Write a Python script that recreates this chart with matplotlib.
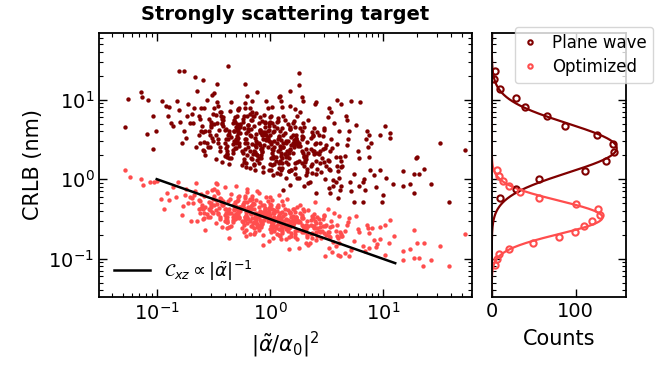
import numpy as np
import matplotlib.pyplot as plt

# scatter points, log10 of (|alpha/alpha0|^2, CRLB in nm)
pw_log = [
    (-1.28,0.66),(-1.25,1.01),(-1.14,1.10),(-1.13,1.03),(-1.09,0.57),(-1.08,0.99),(-1.03,0.79),(-1.03,0.38),(-1.01,0.60),
    (-0.95,0.98),(-0.92,0.92),(-0.89,0.91),(-0.87,0.70),(-0.86,0.67),(-0.82,0.98),(-0.90,0.79),(-0.80,0.87),(-0.80,1.36),
    (-0.76,1.36),(-0.76,0.60),(-0.78,0.45),(-0.73,0.80),(-0.72,0.95),(-0.71,0.70),(-0.74,0.52),(-0.79,0.72),
    (-0.68,0.70),(-0.62,0.45),(-0.66,1.29),(-0.61,0.60),(-0.69,0.82),(-0.64,1.11),(-0.60,0.67),(-0.67,0.89),(-0.63,0.55),(-0.65,0.40),
    (-0.58,0.35),(-0.52,0.72),(-0.56,0.46),(-0.51,1.06),(-0.59,0.59),(-0.54,0.75),(-0.57,0.30),(-0.50,0.82),(-0.53,0.55),(-0.58,0.90),
    (-0.55,0.40),(-0.52,0.68),(-0.59,1.25),(-0.56,0.99),
    (-0.48,0.25),(-0.42,0.76),(-0.46,0.46),(-0.41,0.67),(-0.49,1.08),(-0.44,0.40),(-0.47,0.71),(-0.40,0.29),(-0.43,0.84),(-0.48,0.55),
    (-0.45,0.62),(-0.42,0.22),(-0.49,0.90),(-0.46,0.50),(-0.41,0.78),(-0.44,0.35),(-0.47,1.20),
    (-0.38,0.42),(-0.32,0.61),(-0.36,0.19),(-0.31,0.78),(-0.39,0.51),(-0.34,0.97),(-0.37,0.55),(-0.30,0.39),(-0.33,0.70),(-0.38,0.31),
    (-0.35,0.86),(-0.32,0.48),(-0.39,0.63),(-0.36,0.27),(-0.31,0.72),(-0.34,0.53),(-0.37,1.42),(-0.33,0.44),(-0.30,0.65),(-0.36,0.60),(-0.38,0.36),
    (-0.28,0.87),(-0.22,0.46),(-0.26,0.68),(-0.21,0.15),(-0.29,0.54),(-0.24,0.76),(-0.27,0.42),(-0.20,1.04),(-0.23,0.25),(-0.28,0.62),
    (-0.25,0.36),(-0.22,0.96),(-0.29,0.49),(-0.26,0.65),(-0.21,0.20),(-0.24,0.72),(-0.27,0.45),(-0.23,0.80),(-0.20,0.30),(-0.26,0.58),
    (-0.28,0.52),(-0.22,0.89),(-0.25,0.18),(-0.29,0.69),
    (-0.18,0.36),(-0.12,0.57),(-0.16,0.98),(-0.11,0.30),(-0.19,0.61),(-0.14,0.19),(-0.17,0.74),(-0.10,0.45),(-0.13,0.52),(-0.18,0.14),
    (-0.15,0.80),(-0.12,0.40),(-0.19,0.68),(-0.16,0.25),(-0.11,1.10),(-0.14,0.35),(-0.17,0.54),(-0.13,0.12),(-0.10,0.71),(-0.16,0.44),
    (-0.18,0.90),(-0.12,0.48),(-0.15,0.32),(-0.19,0.63),(-0.11,0.24),(-0.14,0.79),
    (-0.08,0.38),(-0.02,0.53),(-0.06,0.15),(-0.01,0.62),(-0.09,0.43),(-0.04,0.72),(-0.07,0.34),(0.00,0.55),(-0.03,0.50),(-0.08,0.26),
    (-0.05,0.81),(-0.02,0.40),(-0.09,0.62),(-0.06,0.09),(-0.01,0.48),(-0.04,0.70),(-0.07,0.36),(-0.03,0.98),(0.00,0.19),(-0.06,0.56),
    (-0.08,0.30),(-0.02,0.90),(-0.05,0.43),(-0.09,0.59),(-0.01,0.11),(-0.04,0.66),(-0.07,0.39),
    (0.02,0.70),(0.08,0.20),(0.04,0.48),(0.09,0.42),(0.01,0.79),(0.06,0.08),(0.03,0.59),(0.10,0.29),(0.07,0.50),(0.02,0.91),
    (0.05,0.23),(0.08,0.54),(0.01,0.12),(0.04,0.67),(0.09,0.38),(0.06,0.45),(0.03,0.05),(0.07,0.73),(0.10,0.33),(0.04,0.61),
    (0.02,0.18),(0.08,1.03),(0.05,0.28),(0.01,0.47),(0.09,0.07),(0.06,0.64),(0.03,0.37),
    (0.12,0.80),(0.18,0.38),(0.14,0.22),(0.19,0.53),(0.11,0.14),(0.16,0.69),(0.13,0.31),(0.20,0.46),(0.17,0.10),(0.12,0.55),
    (0.15,0.36),(0.18,0.65),(0.11,0.27),(0.14,0.48),(0.19,0.43),(0.16,0.19),(0.13,0.74),(0.17,0.33),(0.20,0.55),(0.14,0.02),
    (0.12,0.41),(0.18,0.63),(0.15,0.29),(0.11,0.91),(0.19,0.12),
    (0.22,0.46),(0.28,0.20),(0.24,0.80),(0.29,0.33),(0.21,0.49),(0.26,0.01),(0.23,0.56),(0.30,0.29),(0.27,0.64),(0.22,0.14),
    (0.25,0.42),(0.28,0.36),(0.21,0.73),(0.24,0.02),(0.29,0.53),(0.26,0.23),(0.23,0.44),(0.27,0.85),(0.30,0.17),(0.24,0.48),
    (0.22,0.06),(0.28,0.61),
    (0.32,0.29),(0.38,0.36),(0.34,-0.05),(0.39,0.64),(0.31,0.24),(0.36,0.52),(0.33,0.09),(0.40,0.94),(0.37,0.19),(0.32,0.38),
    (0.35,-0.03),(0.38,0.55),(0.31,0.28),(0.34,0.74),(0.39,0.32),(0.36,0.16),(0.33,0.47),(0.37,0.08),
    (0.42,0.59),(0.48,0.21),(0.44,0.36),(0.49,0.00),(0.41,0.45),(0.46,0.26),(0.43,0.55),(0.50,0.17),(0.47,0.38),(0.42,0.33),
    (0.45,0.09),(0.48,0.64),(0.41,0.23),(0.44,0.45),
    (0.52,-0.11),(0.58,0.28),(0.54,0.50),(0.59,0.16),(0.51,0.78),(0.56,-0.01),(0.53,0.36),(0.60,0.10),(0.57,0.70),(0.52,0.23),(0.55,0.39),
    (0.62,-0.13),(0.68,0.43),(0.64,0.16),(0.69,0.51),(0.61,0.01),(0.66,0.29),(0.63,0.23),(0.70,0.60),
    (0.72,-0.15),(0.78,0.36),(0.74,0.06),(0.79,0.27),(0.76,0.68),
    (0.82,-0.03),(0.88,0.28),(0.84,-0.14),(0.87,0.41),(0.92,0.05),(0.97,0.55),(0.94,-0.10),
    (-0.22,1.20),(0.26,1.34),(0.26,1.18),(0.18,1.11),(0.09,1.05),(0.10,0.98),(0.28,1.03),(0.29,0.98),(0.41,0.97),(0.59,0.99),
    (0.63,0.95),(0.72,0.98),(0.80,0.97),(0.18,0.92),(0.22,0.88),(0.52,0.89),(0.54,0.85),(0.67,0.80),(0.68,0.74),(0.86,0.60),
    (0.88,0.55),(0.85,0.50),(0.89,0.46),
    (0.74,-0.29),(0.82,-0.29),(0.99,-0.29),(0.60,-0.24),(0.53,-0.17),(0.56,-0.09),(0.63,-0.09),(0.79,-0.09),(0.83,0.00),(0.97,0.12),
    (1.03,0.02),(0.885,0.12),(0.71,-0.03),(0.41,-0.17),(0.30,-0.09),(0.18,-0.07),(0.12,-0.13),
    (1.02,0.67),(1.06,0.58),(1.06,0.52),(1.18,0.10),(1.27,0.07),(1.29,0.27),(1.30,0.28),(1.36,0.13),(1.50,0.46),(1.72,0.37),
    (1.32,0.07),(1.18,-0.09),(1.24,-0.06),(1.27,-0.17),(1.42,-0.06),(1.09,-0.06),(1.58,-0.29),(1.00,-0.20),
    # denser core
    (-0.62,0.75),(-0.58,0.47),(-0.61,0.90),(-0.57,0.60),(-0.63,0.79),(-0.59,0.37),
    (-0.52,0.65),(-0.48,0.81),(-0.51,0.52),(-0.47,0.97),(-0.53,0.40),(-0.49,0.69),(-0.50,0.48),(-0.46,0.92),(-0.54,0.60),
    (-0.42,0.69),(-0.38,0.28),(-0.41,0.74),(-0.37,0.51),(-0.43,0.80),(-0.39,0.39),(-0.40,0.62),(-0.36,0.57),(-0.44,0.85),(-0.38,0.32),
    (-0.42,0.70),(-0.40,0.46),
    (-0.32,0.61),(-0.28,0.88),(-0.31,0.39),(-0.27,0.65),(-0.33,0.37),(-0.29,0.80),(-0.30,0.50),(-0.26,0.69),(-0.34,0.27),(-0.28,0.58),
    (-0.32,0.74),(-0.30,0.45),(-0.27,0.90),(-0.33,0.33),(-0.29,0.62),
    (-0.22,0.38),(-0.18,0.82),(-0.21,0.50),(-0.17,0.63),(-0.23,0.22),(-0.19,0.68),(-0.20,0.45),(-0.16,0.74),(-0.24,0.33),(-0.18,0.56),
    (-0.22,0.51),(-0.20,0.79),(-0.17,0.26),(-0.23,0.64),(-0.19,0.40),(-0.21,0.58),(-0.16,0.85),
    (-0.12,0.32),(-0.08,0.58),(-0.11,0.30),(-0.07,0.73),(-0.13,0.43),(-0.09,0.62),(-0.10,0.20),(-0.06,0.51),(-0.14,0.67),(-0.08,0.38),
    (-0.12,0.83),(-0.10,0.26),(-0.07,0.55),(-0.13,0.34),(-0.09,0.78),(-0.11,0.46),(-0.06,0.59),(-0.14,0.18),
    (-0.02,0.61),(0.02,0.38),(-0.01,0.67),(0.03,0.26),(-0.03,0.49),(0.01,0.44),(0.00,0.72),(0.04,0.19),(-0.04,0.57),(0.02,0.33),
    (-0.02,0.51),(0.00,0.78),(0.03,0.29),(-0.03,0.55),(0.01,0.27),(-0.01,0.70),(0.04,0.40),(-0.04,0.59),
    (0.08,0.14),(0.12,0.45),(0.09,0.61),(0.13,0.32),(0.07,0.77),(0.11,0.20),(0.10,0.49),(0.14,0.28),(0.06,0.72),(0.12,0.40),
    (0.08,0.53),(0.10,0.12),(0.13,0.58),(0.07,0.35),(0.11,0.64),(0.09,0.23),(0.14,0.46),
    (0.18,0.37),(0.22,0.65),(0.19,0.12),(0.23,0.50),(0.17,0.26),(0.21,0.44),(0.20,0.71),(0.24,0.22),(0.16,0.48),(0.22,0.20),
    (0.18,0.63),(0.20,0.33),(0.23,0.52),(0.17,0.10),(0.21,0.41),
    (0.28,0.54),(0.32,0.25),(0.29,0.70),(0.33,0.13),(0.27,0.42),(0.31,0.21),(0.30,0.65),(0.34,0.33),(0.26,0.46),(0.32,0.05),
    (0.28,0.51),(0.30,0.28),
    (0.38,0.54),(0.42,0.13),(0.39,0.36),(0.43,0.31),(0.37,0.59),(0.41,0.06),(0.40,0.44),(0.44,0.20),(0.36,0.38),
    (0.48,0.62),(0.52,0.13),(0.49,0.39),(0.53,0.11),(0.47,0.54),(0.51,0.24),(0.50,0.43),
    (0.58,-0.03),(0.62,0.28),(0.59,0.44),(0.63,0.15),(0.61,0.60),
]

opt_log = [
    (-1.28,0.11),(-1.24,0.03),(-1.14,0.00),(-1.12,-0.07),(-1.06,-0.03),(-1.02,-0.04),(-1.00,-0.02),(-0.91,-0.17),(-0.89,-0.26),
    (-0.83,-0.22),(-0.94,-0.38),(-0.81,-0.03),(-0.77,-0.34),(-0.71,-0.22),(-0.74,-0.12),(-0.78,-0.45),(-0.72,-0.30),(-0.86,-0.10),
    (-0.96,-0.25),(-0.75,-0.20),(-0.70,-0.52),
    (-0.68,-0.30),(-0.62,-0.43),(-0.66,-0.15),(-0.61,-0.36),(-0.69,-0.24),(-0.64,-0.53),(-0.60,-0.32),(-0.67,-0.20),(-0.63,-0.38),(-0.65,-0.05),
    (-0.58,-0.49),(-0.52,-0.30),(-0.56,-0.44),(-0.51,-0.13),(-0.59,-0.37),(-0.54,-0.29),(-0.57,-0.64),(-0.50,-0.25),(-0.53,-0.39),(-0.58,-0.21),
    (-0.55,-0.47),(-0.52,-0.32),(-0.59,-0.36),(-0.56,-0.16),
    (-0.48,-0.55),(-0.42,-0.29),(-0.46,-0.44),(-0.41,-0.33),(-0.49,-0.12),(-0.44,-0.47),(-0.47,-0.31),(-0.40,-0.53),(-0.43,-0.25),(-0.48,-0.39),
    (-0.45,-0.36),(-0.42,-0.60),(-0.49,-0.21),(-0.46,-0.42),(-0.41,-0.28),(-0.44,-0.50),(-0.47,-0.06),
    (-0.38,-0.48),(-0.32,-0.38),(-0.36,-0.60),(-0.31,-0.29),(-0.39,-0.43),(-0.34,-0.19),(-0.37,-0.41),(-0.30,-0.49),(-0.33,-0.33),(-0.38,-0.54),
    (-0.35,-0.25),(-0.32,-0.45),(-0.39,-0.37),(-0.36,-0.74),(-0.31,-0.32),(-0.34,-0.42),(-0.37,-0.27),(-0.33,-0.47),(-0.30,-0.36),(-0.36,-0.38),(-0.38,-0.51),
    (-0.28,-0.26),(-0.22,-0.47),(-0.26,-0.35),(-0.21,-0.64),(-0.29,-0.43),(-0.24,-0.31),(-0.27,-0.49),(-0.20,-0.16),(-0.23,-0.57),(-0.28,-0.38),
    (-0.25,-0.52),(-0.22,-0.21),(-0.29,-0.45),(-0.26,-0.37),(-0.21,-0.72),(-0.24,-0.33),(-0.27,-0.47),(-0.23,-0.29),(-0.20,-0.55),(-0.26,-0.40),
    (-0.28,-0.44),(-0.22,-0.24),(-0.25,-0.61),(-0.29,-0.35),
    (-0.18,-0.53),(-0.12,-0.42),(-0.16,-0.21),(-0.11,-0.56),(-0.19,-0.40),(-0.14,-0.62),(-0.17,-0.34),(-0.10,-0.48),(-0.13,-0.45),(-0.18,-0.69),
    (-0.15,-0.30),(-0.12,-0.51),(-0.19,-0.37),(-0.16,-0.59),(-0.11,-0.15),(-0.14,-0.54),(-0.17,-0.44),(-0.13,-0.66),(-0.10,-0.35),(-0.16,-0.49),
    (-0.18,-0.25),(-0.12,-0.47),(-0.15,-0.55),(-0.19,-0.39),(-0.11,-0.60),(-0.14,-0.31),
    (-0.08,-0.54),(-0.02,-0.46),(-0.06,-0.83),(-0.01,-0.41),(-0.09,-0.51),(-0.04,-0.36),(-0.07,-0.56),(0.00,-0.45),(-0.03,-0.47),(-0.08,-0.60),
    (-0.05,-0.32),(-0.02,-0.53),(-0.09,-0.41),(-0.06,-0.70),(-0.01,-0.49),(-0.04,-0.37),(-0.07,-0.55),(-0.03,-0.22),(0.00,-0.63),(-0.06,-0.44),
    (-0.08,-0.58),(-0.02,-0.27),(-0.05,-0.51),(-0.09,-0.43),(-0.01,-0.78),(-0.04,-0.39),(-0.07,-0.53),
    (0.02,-0.37),(0.08,-0.63),(0.04,-0.48),(0.09,-0.52),(0.01,-0.32),(0.06,-0.69),(0.03,-0.43),(0.10,-0.58),(0.07,-0.47),(0.02,-0.26),
    (0.05,-0.61),(0.08,-0.45),(0.01,-0.67),(0.04,-0.39),(0.09,-0.53),(0.06,-0.50),(0.03,-0.74),(0.07,-0.35),(0.10,-0.56),(0.04,-0.42),
    (0.02,-0.64),(0.08,-0.20),(0.05,-0.59),(0.01,-0.49),(0.09,-0.71),(0.06,-0.40),(0.03,-0.54),
    (0.12,-0.33),(0.18,-0.55),(0.14,-0.63),(0.19,-0.47),(0.11,-0.68),(0.16,-0.39),(0.13,-0.59),(0.20,-0.51),(0.17,-0.88),(0.12,-0.46),
    (0.15,-0.56),(0.18,-0.41),(0.11,-0.61),(0.14,-0.50),(0.19,-0.52),(0.16,-0.65),(0.13,-0.37),(0.17,-0.58),(0.20,-0.46),(0.14,-0.75),
    (0.12,-0.54),(0.18,-0.42),(0.15,-0.60),(0.11,-0.27),(0.19,-0.68),
    (0.22,-0.52),(0.28,-0.66),(0.24,-0.35),(0.29,-0.59),(0.21,-0.51),(0.26,-0.86),(0.23,-0.47),(0.30,-0.61),(0.27,-0.43),(0.22,-0.69),
    (0.25,-0.54),(0.28,-0.58),(0.21,-0.38),(0.24,-0.75),(0.29,-0.49),(0.26,-0.64),(0.23,-0.53),(0.27,-0.32),(0.30,-0.67),(0.24,-0.51),
    (0.22,-0.73),(0.28,-0.45),
    (0.32,-0.62),(0.38,-0.59),(0.34,-0.83),(0.39,-0.44),(0.31,-0.65),(0.36,-0.51),(0.33,-0.73),(0.40,-0.29),(0.37,-0.68),(0.32,-0.58),
    (0.35,-0.80),(0.38,-0.49),(0.31,-0.63),(0.34,-0.39),(0.39,-0.61),(0.36,-0.69),(0.33,-0.53),(0.37,-0.74),
    (0.42,-0.48),(0.48,-0.68),(0.44,-0.60),(0.49,-0.97),(0.41,-0.55),(0.46,-0.65),(0.43,-0.50),(0.50,-0.70),(0.47,-0.59),(0.42,-0.61),
    (0.45,-0.74),(0.48,-0.46),(0.41,-0.67),(0.44,-0.55),
    (0.52,-0.86),(0.58,-0.65),(0.54,-0.53),(0.59,-0.71),(0.51,-0.38),(0.56,-0.79),(0.53,-0.60),(0.60,-0.74),(0.57,-0.43),(0.52,-0.67),(0.55,-0.59),
    (0.62,-0.97),(0.68,-0.58),(0.64,-0.72),(0.69,-0.54),(0.61,-0.80),(0.66,-0.65),(0.63,-0.69),(0.70,-0.49),
    (0.72,-0.89),(0.78,-0.63),(0.74,-0.78),(0.79,-0.67),(0.76,-0.46),
    (0.82,-0.84),(0.88,-0.68),(0.84,-0.90),(0.87,-0.62),(0.92,-0.76),(0.97,-0.60),(0.94,-0.85),
    (0.86,-0.57),(0.90,-0.62),(0.97,-0.75),(0.95,-0.82),(0.88,-0.87),(1.02,-0.58),(0.70,-0.96),(0.66,-0.93),(0.60,-0.95),(0.55,-0.92),
    (1.06,-0.51),(1.27,-0.64),(1.30,-0.80),(1.36,-0.80),(1.18,-0.90),(1.24,-0.88),(1.27,-0.99),(1.32,-0.99),(1.42,-1.01),(1.35,-1.09),
    (1.50,-0.84),(1.58,-1.09),(1.72,-0.69),(1.18,-1.02),(1.02,-0.95),(1.05,-0.80),(1.10,-0.72),
    (-0.30,-0.08),(-0.20,-0.12),(-0.10,-0.17),(0.00,-0.22),(0.15,-0.25),(-0.48,-0.05),(-0.40,-0.10),
    # denser core
    (-0.62,-0.28),(-0.58,-0.42),(-0.61,-0.19),(-0.57,-0.35),(-0.63,-0.26),(-0.59,-0.50),
    (-0.52,-0.35),(-0.48,-0.26),(-0.51,-0.41),(-0.47,-0.15),(-0.53,-0.48),(-0.49,-0.32),(-0.50,-0.43),(-0.46,-0.18),(-0.54,-0.37),
    (-0.42,-0.33),(-0.38,-0.61),(-0.41,-0.30),(-0.37,-0.42),(-0.43,-0.27),(-0.39,-0.49),(-0.40,-0.37),(-0.36,-0.43),(-0.44,-0.24),(-0.38,-0.54),
    (-0.42,-0.31),(-0.40,-0.45),
    (-0.32,-0.39),(-0.28,-0.23),(-0.31,-0.50),(-0.27,-0.37),(-0.33,-0.51),(-0.29,-0.28),(-0.30,-0.44),(-0.26,-0.35),(-0.34,-0.59),(-0.28,-0.41),
    (-0.32,-0.32),(-0.30,-0.47),(-0.27,-0.21),(-0.33,-0.54),(-0.29,-0.38),
    (-0.22,-0.51),(-0.18,-0.26),(-0.21,-0.45),(-0.17,-0.38),(-0.23,-0.66),(-0.19,-0.35),(-0.20,-0.47),(-0.16,-0.32),(-0.24,-0.54),(-0.18,-0.42),
    (-0.22,-0.48),(-0.20,-0.29),(-0.17,-0.59),(-0.23,-0.36),(-0.19,-0.50),(-0.21,-0.41),(-0.16,-0.25),
    (-0.12,-0.55),(-0.08,-0.42),(-0.11,-0.56),(-0.07,-0.33),(-0.13,-0.49),(-0.09,-0.40),(-0.10,-0.64),(-0.06,-0.46),(-0.14,-0.37),(-0.08,-0.52),
    (-0.12,-0.26),(-0.10,-0.59),(-0.07,-0.43),(-0.13,-0.54),(-0.09,-0.29),(-0.11,-0.48),(-0.06,-0.41),(-0.14,-0.69),
    (-0.02,-0.41),(0.02,-0.53),(-0.01,-0.38),(0.03,-0.60),(-0.03,-0.48),(0.01,-0.54),(0.00,-0.35),(0.04,-0.65),(-0.04,-0.42),(0.02,-0.56),
    (-0.02,-0.47),(0.00,-0.31),(0.03,-0.58),(-0.03,-0.45),(0.01,-0.59),(-0.01,-0.36),(0.04,-0.52),(-0.04,-0.43),
    (0.08,-0.70),(0.12,-0.52),(0.09,-0.43),(0.13,-0.58),(0.07,-0.32),(0.11,-0.65),(0.10,-0.49),(0.14,-0.60),(0.06,-0.35),(0.12,-0.54),
    (0.08,-0.47),(0.10,-0.75),(0.13,-0.44),(0.07,-0.56),(0.11,-0.41),(0.09,-0.63),(0.14,-0.51),
    (0.18,-0.60),(0.22,-0.41),(0.19,-0.71),(0.23,-0.48),(0.17,-0.62),(0.21,-0.53),(0.20,-0.37),(0.24,-0.64),(0.16,-0.51),(0.22,-0.65),
    (0.18,-0.42),(0.20,-0.58),(0.23,-0.49),(0.17,-0.73),(0.21,-0.55),
    (0.28,-0.48),(0.32,-0.63),(0.29,-0.37),(0.33,-0.70),(0.27,-0.54),(0.31,-0.65),(0.30,-0.40),(0.34,-0.59),(0.26,-0.52),(0.32,-0.80),
    (0.28,-0.49),(0.30,-0.61),
    (0.38,-0.49),(0.42,-0.71),(0.39,-0.59),(0.43,-0.65),(0.37,-0.46),(0.41,-0.76),(0.40,-0.53),(0.44,-0.67),(0.36,-0.58),
    (0.48,-0.45),(0.52,-0.72),(0.49,-0.59),(0.53,-0.73),(0.47,-0.50),(0.51,-0.66),(0.50,-0.57),
    (0.58,-0.84),(0.62,-0.66),(0.59,-0.57),(0.63,-0.72),(0.61,-0.46),
]

# power-law guide line
line_x = [0.1, 12.8]
line_y = [1.0, 0.088]

# histogram points (counts, CRLB)
pw_counts = [3.6, 2.4, 9.5, 29, 40, 66, 87, 125, 144, 146, 136, 111, 56, 28.6, 10.3]
pw_bins = [22.7, 17.9, 13.6, 10.5, 8.0, 6.2, 4.7, 3.6, 2.8, 2.2, 1.68, 1.28, 1.0, 0.76, 0.58]
opt_counts = [6.3, 8.7, 13.5, 20.6, 34, 56, 100, 127, 129, 119, 109.5, 99, 80, 49, 20.6, 8.7, 6.3, 3.6]
opt_bins = [1.29, 1.11, 0.95, 0.81, 0.68, 0.58, 0.49, 0.42, 0.355, 0.30, 0.255, 0.216, 0.185, 0.158,
            0.134, 0.116, 0.098, 0.083]

# gaussian fits in log10(CRLB): amplitude, centre, width
pw_fit = (149, 0.39, 0.31)
opt_fit = (132, -0.48, 0.21)

dark = '#800000'
light = '#ff4d4d'

pw = 10.0 ** np.array(pw_log)
opt = 10.0 ** np.array(opt_log)

fig = plt.figure(figsize=(6.61, 3.69), dpi=100)
ax = fig.add_axes([0.150, 0.195, 0.564, 0.716])
axh = fig.add_axes([0.744, 0.195, 0.203, 0.716], sharey=ax)

ax.scatter(pw[:, 0], pw[:, 1], s=10, color=dark, lw=0)
ax.scatter(opt[:, 0], opt[:, 1], s=10, color=light, lw=0)
ax.plot(line_x, line_y, color='k', lw=1.8,
        label=r'$\mathcal{C}_{xz} \propto |\tilde{\alpha}|^{-1}$')
ax.set_xscale('log')
ax.set_yscale('log')
ax.set_xlim(0.031, 61)
ax.set_ylim(0.033, 69)
ax.set_xlabel(r'$|\tilde{\alpha}/\alpha_0|^2$', fontsize=15)
ax.set_ylabel('CRLB (nm)', fontsize=15)
ax.set_title('Strongly scattering target', fontsize=14, fontweight='bold', pad=9)
ax.legend(loc='lower left', frameon=False, fontsize=13, handlelength=2.0,
          handletextpad=0.8, borderaxespad=0.4)

yy = np.logspace(-1.6, 1.9, 400)
for (a, mu, sig), c in [(pw_fit, dark), (opt_fit, light)]:
    axh.plot(a * np.exp(-(np.log10(yy) - mu) ** 2 / (2 * sig ** 2)), yy, color=c, lw=1.6)
h1, = axh.plot(pw_counts, pw_bins, 'o', mfc='none', mec=dark, ms=4.5, mew=1.5, label='Plane wave')
h2, = axh.plot(opt_counts, opt_bins, 'o', mfc='none', mec=light, ms=4.5, mew=1.5, label='Optimized')
axh.set_xlim(0, 160)
axh.set_xticks([0, 100])
axh.set_xlabel('Counts', fontsize=15, labelpad=6)
fig.legend(handles=[h1, h2], loc='upper right', bbox_to_anchor=(0.988, 0.927),
           fontsize=12, markerscale=0.7, handlelength=1.0, handletextpad=0.8,
           borderpad=0.4, labelspacing=0.4, borderaxespad=0)

for a in (ax, axh):
    a.tick_params(which='both', direction='in', top=True, right=True, labelsize=14)
    a.tick_params(which='major', length=6, width=1)
    a.tick_params(which='minor', length=3, width=0.8)
    for s in a.spines.values():
        s.set_linewidth(1.3)
axh.tick_params(labelleft=False)

fig.savefig('out.png', dpi=100)
